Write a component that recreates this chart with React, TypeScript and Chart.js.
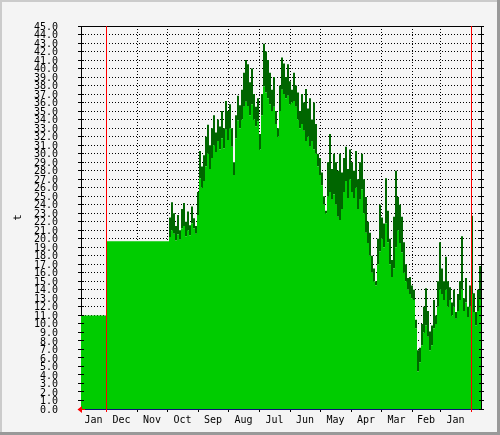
import React, { useEffect, useRef } from 'react';
import { Chart, registerables } from 'chart.js';

Chart.register(...registerables);

// ---------- data ----------
const monthLabels = ['Jan', 'Dec', 'Nov', 'Oct', 'Sep', 'Aug', 'Jul', 'Jun', 'May', 'Apr', 'Mar', 'Feb', 'Jan'];
// month boundaries in days from the left edge
const monthEdges = [0, 25, 56, 86, 117, 147, 178, 209, 239, 270, 300, 331, 359, 390];
const xMax = 400;
const yMax = 45;
const ruleDays = [25, 390];

// flat leading part (both series equal)
const flatStarts = [0, 25];
const flatLevels = [11.0, 19.7];

// sampled part, every 2 days from day 88
const sampleStart = 88;
const sampleStep = 2;
const avgValues = [
  20.2, 21.0, 20.6, 19.8, 20.5, 19.9, 21.2, 21.5, 20.3, 21.0,
  20.4, 21.8, 21.2, 20.6, 22.8, 27.1, 26.0, 26.8, 28.5, 30.0,
  28.2, 29.5, 31.0, 30.2, 31.5, 30.5, 31.8, 30.6, 32.8, 31.6,
  33.0, 30.8, 27.5, 31.8, 33.9, 33.0, 34.0, 35.5, 36.1, 35.6,
  34.5, 35.8, 34.0, 33.2, 33.8, 30.5, 34.5, 37.9, 37.2, 36.5,
  35.8, 35.0, 35.5, 33.5, 32.0, 35.0, 37.5, 37.0, 36.5, 36.8,
  35.8, 36.0, 36.2, 35.5, 34.0, 33.0, 33.5, 32.7, 31.5, 32.0,
  30.8, 31.5, 30.5, 30.0, 28.5, 27.5, 26.3, 24.0, 23.0, 25.0,
  25.5, 24.6, 25.2, 24.0, 22.6, 22.2, 23.5, 25.5, 26.8, 24.8,
  27.0, 25.5, 24.8, 26.0, 23.5, 24.6, 25.8, 23.0, 20.7, 19.5,
  18.0, 16.0, 15.0, 14.5, 17.0, 18.5, 20.0, 19.0, 21.8, 19.6,
  17.0, 15.5, 16.5, 19.0, 21.0, 19.5, 18.4, 16.0, 15.0, 14.0,
  13.5, 13.0, 12.8, 9.5, 4.4, 5.5, 7.5, 9.0, 9.8, 8.5,
  6.9, 7.5, 9.5, 10.0, 12.0, 14.0, 13.5, 12.8, 14.0, 12.0,
  12.8, 11.0, 12.0, 10.6, 11.5, 12.8, 14.0, 11.5, 12.5, 10.8,
  12.0, 13.5, 11.4, 9.8, 11.5, 13.0, 12.8,
];
const maxValues = [
  22.5, 24.3, 23.0, 21.5, 22.8, 21.0, 23.5, 24.2, 22.0, 23.2,
  21.6, 23.8, 22.4, 21.5, 25.5, 30.3, 28.5, 29.8, 32.0, 33.4,
  31.0, 33.0, 34.5, 32.5, 34.0, 33.2, 35.0, 33.0, 36.2, 35.0,
  35.8, 33.0, 29.0, 34.5, 36.8, 35.7, 37.5, 39.5, 41.0, 40.5,
  38.4, 40.0, 37.0, 35.5, 36.5, 32.3, 37.0, 42.9, 42.0, 41.0,
  39.5, 37.5, 39.0, 35.0, 33.0, 38.0, 41.3, 40.6, 39.0, 40.5,
  38.5, 37.5, 39.5, 38.0, 37.2, 35.0, 37.0, 36.0, 37.6, 35.3,
  36.5, 34.0, 36.0, 33.5, 30.0, 29.5, 27.8, 25.0, 23.3, 29.0,
  32.3, 28.2, 30.0, 29.0, 28.0, 30.0, 27.8, 29.5, 30.8, 28.2,
  30.5, 29.0, 28.0, 30.3, 27.0, 29.0, 30.0, 27.0, 24.9, 22.0,
  20.7, 18.0, 16.5, 15.0, 20.0, 24.0, 22.5, 21.8, 27.1, 23.3,
  20.0, 17.5, 22.6, 28.0, 24.9, 24.0, 22.6, 19.6, 17.0, 15.4,
  15.5, 14.5, 14.0, 10.5, 6.9, 7.2, 10.0, 12.0, 14.2, 11.5,
  9.1, 9.8, 12.8, 11.0, 15.0, 19.6, 16.5, 15.0, 17.9, 15.0,
  14.3, 12.5, 14.0, 11.4, 13.5, 15.0, 20.3, 13.0, 15.4, 12.0,
  14.5, 22.7, 13.6, 11.4, 14.0, 16.8, 15.5,
];

// ---------- helpers ----------
function buildPoints(values: number[]) {
  const pts: { x: number; y: number }[] = flatStarts.map((d, i) => ({ x: d, y: flatLevels[i] }));
  values.forEach((v, i) => pts.push({ x: sampleStart + i * sampleStep, y: v }));
  return pts;
}

const innerEdges = monthEdges.slice(1);
const edgeSet = new Set<number>(innerEdges);
const labelAt = new Map<number, string>();
monthLabels.forEach((m, i) => {
  const c = (monthEdges[i] + (monthEdges[i + 1] ?? xMax)) / 2;
  labelAt.set(c, m);
});
const xTickValues = [...innerEdges, ...Array.from(labelAt.keys())].sort((a, b) => a - b);
const yTickValues = Array.from({ length: yMax + 1 }, (_, i) => i);

const FONT = 'DejaVu Sans Mono';
const OUTER_BG = '#f4f4f4';
const CANVAS_BG = '#f6f6f6';

const align = (p: number) => Math.round(p - 0.5) + 0.5;

const framePlugin = {
  id: 'rrdFrame',
  beforeDraw(chart: any) {
    const { ctx, width, height, chartArea: a } = chart;
    ctx.save();
    ctx.fillStyle = OUTER_BG;
    ctx.fillRect(0, 0, width, height);
    ctx.fillStyle = '#cbcbcb';
    ctx.fillRect(0, 0, width, 2);
    ctx.fillRect(0, 0, 2, height);
    ctx.fillStyle = '#999999';
    ctx.fillRect(0, height - 3, width, 3);
    ctx.fillRect(width - 3, 0, 3, height);
    ctx.fillStyle = CANVAS_BG;
    ctx.fillRect(a.left, a.top, a.right - a.left, a.bottom - a.top);
    ctx.restore();
  },
  afterDraw(chart: any) {
    const { ctx, chartArea: a, scales } = chart;
    const xs = scales.x;
    const ys = scales.y;
    ctx.save();
    ctx.lineWidth = 1;
    ctx.setLineDash([]);
    ctx.strokeStyle = '#000';
    ctx.beginPath();
    yTickValues.forEach((v) => {
      const py = align(ys.getPixelForValue(v));
      ctx.moveTo(a.left, py);
      ctx.lineTo(a.left + 3, py);
      ctx.moveTo(a.right - 2, py);
      ctx.lineTo(a.right + 3, py);
    });
    ctx.moveTo(a.left, a.top + 0.5);
    ctx.lineTo(a.right + 1, a.top + 0.5);
    ctx.moveTo(a.right + 0.5, a.top);
    ctx.lineTo(a.right + 0.5, a.bottom + 1);
    ctx.stroke();

    ctx.strokeStyle = '#ff0000';
    ctx.beginPath();
    ruleDays.forEach((d) => {
      const px = align(xs.getPixelForValue(d));
      ctx.moveTo(px, a.top);
      ctx.lineTo(px, a.bottom + 3);
    });
    ctx.stroke();

    // axis arrow (pointing left)
    const by = align(a.bottom);
    ctx.fillStyle = '#ff0000';
    ctx.beginPath();
    ctx.moveTo(a.left - 3.5, by);
    ctx.lineTo(a.left + 1, by - 3.5);
    ctx.lineTo(a.left + 1, by + 3.5);
    ctx.closePath();
    ctx.fill();
    ctx.beginPath();
    ctx.moveTo(a.left, by);
    ctx.lineTo(a.left + 4, by);
    ctx.stroke();
    ctx.restore();
  },
};

export default function App() {
  const ref = useRef<HTMLCanvasElement>(null);
  useEffect(() => {
    if (!ref.current) return;
    const chart = new Chart(ref.current, {
      type: 'line',
      data: {
        datasets: [
          {
            label: 'avg',
            data: buildPoints(avgValues),
            fill: 'origin',
            backgroundColor: '#00cc00',
            borderColor: 'rgba(0,0,0,0)',
            borderWidth: 0,
            pointRadius: 0,
            stepped: true,
          },
          {
            label: 'max',
            data: buildPoints(maxValues),
            fill: '-1',
            backgroundColor: '#006600',
            borderColor: 'rgba(0,0,0,0)',
            borderWidth: 0,
            pointRadius: 0,
            stepped: true,
          },
        ],
      },
      options: {
        animation: false,
        responsive: false,
        devicePixelRatio: 1,
        events: [],
        layout: { padding: { top: 14, right: 19, left: 0, bottom: 0 }, autoPadding: false },
        plugins: { legend: { display: false }, tooltip: { enabled: false } },
        scales: {
          x: {
            type: 'linear',
            min: 0,
            max: xMax,
            z: 1,
            afterBuildTicks: (scale: any) => {
              scale.ticks = xTickValues.map((v) => ({ value: v }));
            },
            afterFit: (scale: any) => {
              scale.height = 21;
            },
            ticks: {
              autoSkip: false,
              maxRotation: 0,
              minRotation: 0,
              padding: 2,
              color: '#000',
              font: { family: FONT, size: 10 },
              callback: (v: any) => labelAt.get(Number(v)) ?? '',
            },
            grid: {
              color: (c: any) => (c.tick && edgeSet.has(c.tick.value) ? '#000' : 'rgba(0,0,0,0)'),
              tickColor: (c: any) => (c.tick && edgeSet.has(c.tick.value) ? '#000' : 'rgba(0,0,0,0)'),
              tickLength: 3,
              tickBorderDash: [],
              lineWidth: 1,
            },
            border: { color: '#10107a', width: 1, dash: [1, 2] },
          },
          y: {
            type: 'linear',
            min: 0,
            max: yMax,
            z: 1,
            afterBuildTicks: (scale: any) => {
              scale.ticks = yTickValues.map((v) => ({ value: v }));
            },
            afterFit: (scale: any) => {
              scale.width = 81;
            },
            ticks: {
              autoSkip: false,
              padding: 20,
              labelOffset: 1,
              color: '#000',
              font: { family: FONT, size: 10 },
              callback: (v: any) => Number(v).toFixed(1),
            },
            grid: {
              color: (c: any) =>
                c.tick && (c.tick.value === 0 || c.tick.value === yMax) ? 'rgba(0,0,0,0)' : '#000',
              tickColor: '#000',
              tickLength: 3,
              tickBorderDash: [],
              lineWidth: 1,
            },
            border: { color: '#000', width: 1, dash: [1, 2] },
            title: {
              display: true,
              text: 't',
              color: '#000',
              font: { family: FONT, size: 11 },
              padding: { top: 12, bottom: 0 },
            },
          },
        },
      },
      plugins: [framePlugin],
    } as any);
    return () => chart.destroy();
  }, []);
  return (
    <div style={{ position: 'absolute', left: 0, top: 0, width: 500, height: 435 }}>
      <canvas ref={ref} width={500} height={435} style={{ display: 'block', width: 500, height: 435 }} />
    </div>
  );
}
